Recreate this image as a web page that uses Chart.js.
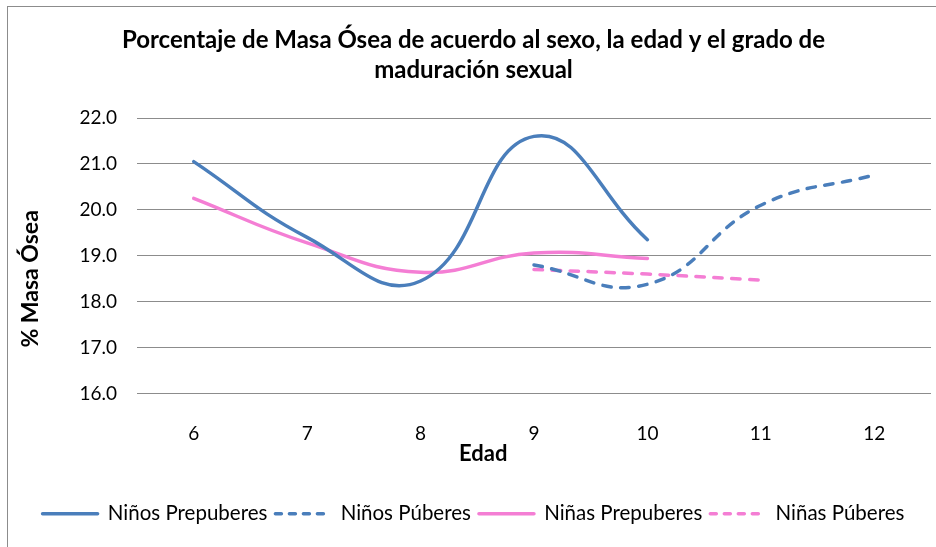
<!DOCTYPE html>
<html>
<head>
<meta charset="utf-8">
<script src="https://cdn.jsdelivr.net/npm/chart.js@4.4.1/dist/chart.umd.min.js"></script>
<style>
  html, body { margin: 0; padding: 0; background: #fff; }
  #wrap { position: relative; width: 936px; height: 547px; }
  #frame { position: absolute; left: 7px; top: 6px; width: 940px; height: 560px; border: 1px solid #8c8c8c; box-sizing: border-box; }
  canvas { position: absolute; left: 0; top: 0; }
</style>
</head>
<body>
<div id="wrap">
  <div id="frame"></div>
  <canvas id="chart" width="936" height="547"></canvas>
</div>
<script>
// Edad (years)
const ages = ['6', '7', '8', '9', '10', '11', '12'];
// % masa ósea per group, null where the group has no data
const ninosPrepuberes = [21.05, 19.4, 18.45, 21.6, 19.35, null, null];
const ninosPuberes = [null, null, null, 18.8, 18.38, 20.1, 20.76];
const ninasPrepuberes = [20.25, 19.28, 18.64, 19.06, 18.94, null, null];
const ninasPuberes = [null, null, null, 18.7, 18.6, 18.47, null];

const blue = '#4a7ebb';
const pink = '#f47ed4';
const font = 'Lato, "Liberation Sans", sans-serif';

function series(label, data, color, dashed) {
  return {
    label: label,
    data: data,
    borderColor: color,
    backgroundColor: color,
    borderWidth: 3.5,
    borderDash: dashed ? [8.5, 9.5] : [],
    borderCapStyle: 'round',
    pointRadius: 0,
    pointHoverRadius: 0,
    tension: 0.45,
    spanGaps: false,
    fill: false
  };
}

// axis titles sit off-centre in the original, so draw them by hand
const axisTitles = {
  id: 'axisTitles',
  afterDraw(c) {
    const a = c.chartArea;
    const g = c.ctx;
    g.save();
    g.fillStyle = '#000';
    g.textAlign = 'center';
    g.textBaseline = 'middle';
    g.font = 'bold 22px ' + font;
    g.fillText('Edad', a.left + a.width * 0.436, a.bottom + 60);
    g.font = 'bold 23px ' + font;
    g.translate(31, a.top + a.height * 0.584);
    g.rotate(-Math.PI / 2);
    g.fillText('% Masa Ósea', 0, 0);
    g.restore();
  }
};

const ctx = document.getElementById('chart').getContext('2d');
const chart = new Chart(ctx, {
  type: 'line',
  data: {
    labels: ages,
    datasets: [
      series('Niños Prepuberes', ninosPrepuberes, blue, false),
      series('Niños Púberes', ninosPuberes, blue, true),
      series('Niñas Prepuberes', ninasPrepuberes, pink, false),
      series('Niñas Púberes', ninasPuberes, pink, true)
    ]
  },
  plugins: [axisTitles],
  options: {
    responsive: false,
    animation: false,
    events: [],
    layout: { padding: { left: 16, right: 5, top: 0, bottom: 13 } },
    plugins: {
      title: {
        display: true,
        text: ['Porcentaje de Masa Ósea de acuerdo al sexo, la edad y el grado de', 'maduración sexual'],
        color: '#000',
        font: { family: font, size: 24, weight: 'bold', lineHeight: 1.25 },
        padding: { top: 25, bottom: 33 }
      },
      legend: {
        position: 'bottom',
        labels: {
          color: '#000',
          font: { family: font, size: 20.5 },
          usePointStyle: true,
          pointStyle: 'line',
          pointStyleWidth: 55,
          padding: 8,
          generateLabels: function(c) {
            return c.data.datasets.map((ds, i) => ({
              text: ds.label,
              fillStyle: ds.borderColor,
              strokeStyle: ds.borderColor,
              lineWidth: 3.5,
              lineDash: ds.borderDash.length ? [6, 8] : [],
              lineCap: 'round',
              pointStyle: 'line',
              fontColor: '#000',
              datasetIndex: i
            }));
          }
        }
      },
      tooltip: { enabled: false }
    },
    scales: {
      x: {
        offset: true,
        grid: { display: false, drawTicks: false },
        border: { display: false },
        ticks: { color: '#000', font: { family: font, size: 19 }, padding: 29 },
        afterFit: s => { s.height = 102; }
      },
      y: {
        min: 16,
        max: 22,
        grid: { color: '#8c8c8c', lineWidth: 1, drawTicks: false },
        border: { display: false },
        ticks: {
          stepSize: 1,
          color: '#000',
          font: { family: font, size: 19 },
          padding: 20,
          callback: v => v.toFixed(1)
        },
        afterFit: s => { s.width = 121; }
      }
    }
  }
});
</script>
</body>
</html>
